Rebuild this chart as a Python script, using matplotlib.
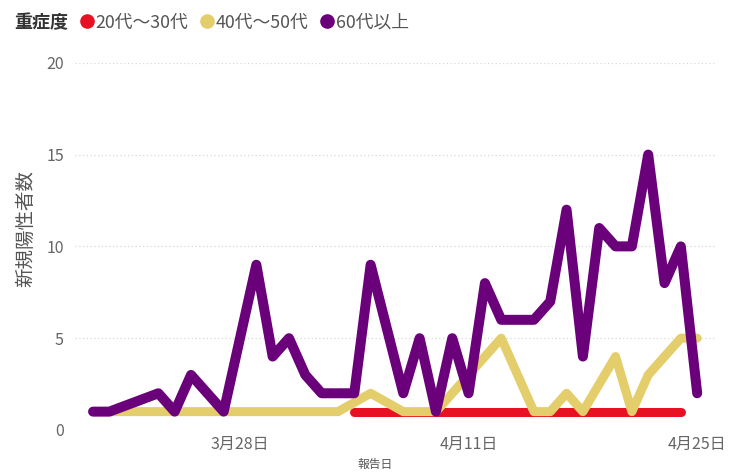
import matplotlib
matplotlib.use("Agg")
import matplotlib.pyplot as plt
from matplotlib.lines import Line2D
import pandas as pd

plt.rcParams['font.family'] = ['Noto Sans CJK JP', 'DejaVu Sans']

YEAR = 2021
# 20代～30代
red_dates = ["4/4", "4/5", "4/6", "4/7", "4/8", "4/9", "4/10", "4/11", "4/12", "4/13",
             "4/14", "4/15", "4/16", "4/17", "4/18", "4/19", "4/20", "4/21", "4/22",
             "4/23", "4/24"]
red_values = [1] * len(red_dates)
# 40代～50代
yellow_dates = ["3/20", "3/21", "3/22", "3/23", "3/24", "3/25", "3/26", "3/27", "3/28",
                "3/29", "3/30", "3/31", "4/1", "4/2", "4/3", "4/5", "4/7", "4/8", "4/9",
                "4/10", "4/11", "4/12", "4/13", "4/14", "4/15", "4/16", "4/17", "4/18",
                "4/20", "4/21", "4/22", "4/23", "4/24", "4/25"]
yellow_values = [1, 1, 1, 1, 1, 1, 1, 1, 1,
                 1, 1, 1, 1, 1, 1, 2, 1, 1, 1,
                 2, 3, 4, 5, 3, 1, 1, 2, 1,
                 4, 1, 3, 4, 5, 5]
# 60代以上
purple_dates = ["3/19", "3/20", "3/23", "3/24", "3/25", "3/27", "3/29", "3/30", "3/31",
                "4/1", "4/2", "4/3", "4/4", "4/5", "4/7", "4/8", "4/9", "4/10", "4/11",
                "4/12", "4/13", "4/14", "4/15", "4/16", "4/17", "4/18", "4/19", "4/20",
                "4/21", "4/22", "4/23", "4/24", "4/25"]
purple_values = [1, 1, 2, 1, 3, 1, 9, 4, 5,
                 3, 2, 2, 2, 9, 2, 5, 1, 5, 2,
                 8, 6, 6, 6, 7, 12, 4, 11, 10,
                 10, 15, 8, 10, 2]

series_names = ["20代～30代", "40代～50代", "60代以上"]
colors = ["#E81123", "#E4CE6B", "#6B007B"]
tick_dates = ["3/28", "4/11", "4/25"]
y_ticks = [0, 5, 10, 15, 20]


def to_dates(lst):
    return pd.to_datetime([f"{YEAR}/{d}" for d in lst], format="%Y/%m/%d")


fig = plt.figure(figsize=(7.29, 4.72), dpi=100)
ax = fig.add_axes([0.103, 0.089, 0.878, 0.778])

all_series = [(red_dates, red_values), (yellow_dates, yellow_values),
              (purple_dates, purple_values)]
lws = [6.5, 6.5, 7.2]
for k, ((d, v), c) in enumerate(zip(all_series, colors)):
    ax.plot(to_dates(d), v, color=c, lw=lws[k], solid_capstyle='round',
            solid_joinstyle='round', zorder=2 + k)

start = pd.Timestamp(f"{YEAR}/3/19")
end = pd.Timestamp(f"{YEAR}/4/25")
ax.set_xlim(start - pd.Timedelta(days=1.1), end + pd.Timedelta(days=1.1))
ax.set_ylim(0, 20)

ax.set_yticks(y_ticks)
ax.set_yticklabels([str(t) for t in y_ticks])
tds = to_dates(tick_dates)
ax.set_xticks(tds)
ax.set_xticklabels([f"{t.month}月{t.day}日" for t in tds])

for y in y_ticks[1:]:
    ax.axhline(y, color="#d9d9d9", lw=0.9, ls=(0, (1, 2)), zorder=1)

for s in ax.spines.values():
    s.set_visible(False)
ax.tick_params(axis='both', length=0, colors="#666666", labelsize=11.5)
ax.tick_params(axis='x', pad=4)
ax.tick_params(axis='y', pad=8)

ax.set_ylabel("新規陽性者数", fontsize=14, color="#555555")
ax.yaxis.set_label_coords(-0.06, 0.55)
fig.text(0.515, 0.003, "報告日", fontsize=8.5, color="#555555", ha='center', va='bottom')

# legend
fig.text(0.02, 0.952, "重症度", fontsize=13, fontweight='bold', color="#333333",
         ha='left', va='center')
handles = [Line2D([], [], marker='o', ls='none', markersize=9.5, markerfacecolor=c,
                  markeredgecolor=c) for c in colors]
leg = fig.legend(handles, series_names, loc='center left', bbox_to_anchor=(0.108, 0.952),
                 ncol=3, frameon=False, handletextpad=0.05, columnspacing=0.6,
                 handlelength=0.9, fontsize=12.8, borderaxespad=0, borderpad=0)
for t in leg.get_texts():
    t.set_color("#555555")

fig.savefig("out.png", dpi=100)
